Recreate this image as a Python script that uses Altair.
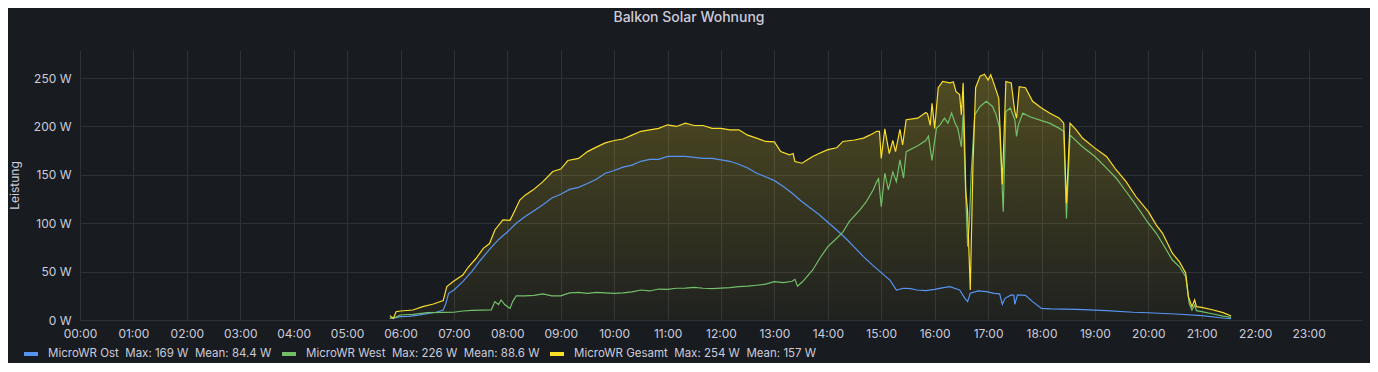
import altair as alt
import pandas as pd

# ---------------- data ----------------
series_names = ["MicroWR Ost", "MicroWR West", "MicroWR Gesamt"]
series_colors = ["#5794F2", "#73BF69", "#FADE2A"]
series_max = ["169 W", "226 W", "254 W"]
series_mean = ["84.4 W", "88.6 W", "157 W"]

hour_labels = ["%02d:00" % h for h in range(24)]
y_ticks = [0, 50, 100, 150, 200, 250]

ost_times = ["05:48", "05:55", "06:00", "06:10", "06:20", "06:30", "06:40", "06:48", "06:51", "06:54",
             "07:00", "07:10", "07:20", "07:30", "07:40", "07:50", "08:00", "08:10", "08:20", "08:30",
             "08:40", "08:50", "09:00", "09:10", "09:20", "09:30", "09:40", "09:50", "10:00", "10:10",
             "10:20", "10:30", "10:40", "10:50", "11:00", "11:10", "11:20", "11:30", "11:40", "11:50",
             "12:00", "12:10", "12:20", "12:30", "12:40", "12:50", "13:00", "13:10", "13:20", "13:30",
             "13:40", "13:50", "14:00", "14:10", "14:20", "14:30", "14:40", "14:50", "15:00", "15:10",
             "15:17", "15:25", "15:33", "15:40", "15:50", "16:00", "16:10", "16:17", "16:28", "16:34",
             "16:37", "16:40", "16:49", "16:58", "17:07", "17:13", "17:16", "17:19", "17:26", "17:29",
             "17:30", "17:33", "17:42", "17:50", "18:00", "18:10", "18:40", "19:00", "19:13", "19:43",
             "20:00", "20:30", "21:00", "21:26", "21:33"]
ost_values = [1.7, 2.5, 3.4, 3.8, 5, 6.5, 8, 10.3, 17, 27.6,
              31, 39.7, 50, 62, 73, 83, 91, 100, 107, 113,
              119, 126, 130, 135, 137, 141, 145.5, 151.7, 154.5, 158,
              160, 164, 166, 166, 169, 169, 169, 168, 167, 167,
              165.5, 164, 161, 157, 151.7, 148, 144, 138, 131, 123,
              116, 109, 101, 93, 84.5, 75, 65.5, 57, 49, 41,
              31, 32.8, 32.5, 31, 30.3, 31.7, 33.4, 34.5, 31, 22.4,
              19, 27.6, 30, 29.3, 27.6, 27, 16.2, 22.4, 25.9, 25.5,
              16.2, 25.9, 25.5, 19, 12, 11.5, 11, 10.3, 9.6, 8,
              7.5, 6.2, 4.5, 1.8, 1.4]

west_times = ["05:48", "05:55", "06:00", "06:14", "06:30", "06:50", "07:00", "07:10", "07:20", "07:42",
              "07:46", "07:50", "07:53", "07:57", "08:03", "08:06", "08:10", "08:20", "08:30", "08:40",
              "08:50", "09:00", "09:10", "09:20", "09:30", "09:40", "09:50", "10:00", "10:10", "10:20",
              "10:30", "10:40", "10:50", "11:00", "11:10", "11:20", "11:30", "11:40", "11:50", "12:00",
              "12:10", "12:20", "12:30", "12:40", "12:50", "13:00", "13:10", "13:20", "13:23", "13:26",
              "13:32", "13:43", "13:51", "14:00", "14:10", "14:17", "14:24", "14:36", "14:43", "14:51",
              "14:55", "14:57", "15:00", "15:04", "15:08", "15:13", "15:17", "15:21", "15:25", "15:28",
              "15:41", "15:50", "15:53", "15:57", "16:02", "16:06", "16:11", "16:15", "16:19", "16:23",
              "16:26", "16:30", "16:32", "16:35", "16:37", "16:39", "16:41", "16:45", "16:51", "16:58",
              "17:02", "17:05", "17:09", "17:13", "17:17", "17:20", "17:25", "17:30", "17:32", "17:34",
              "17:39", "17:47", "18:00", "18:09", "18:20", "18:25", "18:28", "18:32", "18:46", "19:00",
              "19:13", "19:24", "19:35", "19:46", "20:00", "20:09", "20:16", "20:27", "20:35", "20:42",
              "20:46", "20:49", "20:52", "20:54", "21:00", "21:13", "21:24", "21:33"]
west_values = [1.7, 3, 5.2, 5.9, 7.6, 7.9, 8, 9.3, 10, 10.5,
               19, 16, 20.7, 16, 12, 19, 25, 25, 25.5, 27,
               25, 25, 28, 28.6, 27.6, 28.6, 28, 27.6, 28, 29,
               31, 30, 32, 31.7, 32.8, 33, 33.8, 32.8, 32.4, 33,
               33.4, 34.5, 35, 35.9, 37, 39.7, 38.6, 40, 42, 35,
               40, 51.7, 63.8, 75.9, 84.5, 91, 101.7, 113.8, 122, 134.5,
               143, 146, 117, 151.7, 134.5, 153, 143, 165.5, 146.5, 174,
               180, 185.5, 190, 165, 198, 201.7, 208.6, 203.4, 213.8, 203.4,
               198, 179, 212, 126, 76, 100, 150, 212, 220.7, 226,
               223, 220.7, 212, 198, 112, 215.5, 219, 207, 189.6, 201.7,
               213.8, 210, 206, 203.4, 198, 194.8, 105, 191, 179, 169,
               157, 146.5, 132.8, 119, 100, 89.6, 79, 62, 55, 44.8,
               17, 10.3, 15.5, 9.6, 8.6, 6.2, 4, 2.8]

gesamt_times = ["05:48", "05:52", "05:55", "06:00", "06:14", "06:25", "06:37", "06:48", "06:52", "07:00",
                "07:10", "07:16", "07:25", "07:33", "07:40", "07:46", "07:55", "08:03", "08:06", "08:14",
                "08:20", "08:29", "08:40", "08:51", "09:00", "09:08", "09:20", "09:30", "09:40", "09:50",
                "10:00", "10:10", "10:20", "10:30", "10:40", "10:50", "11:00", "11:10", "11:20", "11:30",
                "11:40", "11:50", "12:00", "12:10", "12:20", "12:30", "12:40", "12:50", "13:00", "13:07",
                "13:17", "13:21", "13:23", "13:31", "13:38", "13:43", "13:50", "14:00", "14:10", "14:17",
                "14:30", "14:40", "14:47", "14:55", "14:58", "15:00", "15:04", "15:09", "15:13", "15:16",
                "15:21", "15:24", "15:28", "15:41", "15:50", "15:52", "15:55", "15:57", "16:00", "16:04",
                "16:09", "16:17", "16:21", "16:24", "16:28", "16:30", "16:32", "16:35", "16:37", "16:40",
                "16:43", "16:46", "16:51", "16:56", "17:00", "17:03", "17:07", "17:12", "17:16", "17:20",
                "17:26", "17:30", "17:32", "17:35", "17:42", "17:50", "18:00", "18:09", "18:20", "18:25",
                "18:28", "18:32", "18:39", "18:46", "19:00", "19:13", "19:24", "19:35", "19:46", "20:00",
                "20:09", "20:16", "20:27", "20:35", "20:42", "20:45", "20:49", "20:52", "20:54", "21:00",
                "21:13", "21:24", "21:33"]
gesamt_values = [4.5, 1.7, 8.6, 9.3, 10.3, 13.8, 16.5, 20, 34.5, 40.3,
                 46.5, 54.5, 63.8, 74, 79, 93, 103.4, 103, 108.6, 124,
                 129, 134.5, 143, 153.4, 156, 164.8, 167, 174, 178.6, 183,
                 185.5, 187, 191, 195, 196.5, 198, 201.7, 200, 203.4, 201,
                 201, 198, 198, 196.5, 196.5, 191, 188, 184.5, 184, 174,
                 170.7, 172, 163.8, 162, 166, 169, 172, 176, 178, 184.5,
                 186, 188, 191, 195, 195, 167, 197.6, 172, 185.5, 174,
                 196.9, 181, 207, 208.6, 214.5, 213, 201, 224, 198, 240,
                 246.5, 245, 246, 236, 233, 212, 245, 133, 112, 31,
                 160, 240, 252, 254, 248, 253.4, 243, 229, 140, 246.5,
                 245, 215.5, 208.6, 241, 240, 226, 219, 213.8, 208.6, 203.4,
                 120.7, 203.4, 196.5, 188, 177.6, 169, 155, 143, 127.6, 112,
                 98, 89.6, 69, 60, 48.3, 24, 13.8, 20.7, 13.8, 13,
                 10.3, 7.6, 4.1]

chart_title = "Balkon Solar Wohnung"
y_title = "Leistung"

# ---------------- build table ----------------
def to_hours(s):
    h, m = s.split(":")
    return int(h) + int(m) / 60.0

NB = "\u00a0"
legend_labels = [f"{n}{NB*2}Max: {mx}{NB*2}Mean: {mn}"
                 for n, mx, mn in zip(series_names, series_max, series_mean)]

frames = []
for lab, times, vals in zip(legend_labels,
                            [ost_times, west_times, gesamt_times],
                            [ost_values, west_values, gesamt_values]):
    frames.append(pd.DataFrame({"hour": [to_hours(t) for t in times],
                                "value": vals, "series": lab}))
df = pd.concat(frames, ignore_index=True)

FONT = "Inter"
TEXT = "#ccccdc"

label_expr = "[" + ",".join("'%s'" % l for l in hour_labels) + "][datum.value]"

x_enc = alt.X("hour:Q",
              scale=alt.Scale(domain=[0, 24], nice=False, zero=False),
              axis=alt.Axis(values=list(range(24)), labelExpr=label_expr, title=None,
                            labelPadding=8, labelFlush=False, labelOverlap=False))
y_enc = alt.Y("value:Q",
              scale=alt.Scale(domain=[0, 279], nice=False),
              axis=alt.Axis(values=y_ticks, labelExpr="datum.value + ' W'", title=y_title,
                            labelPadding=9, titleX=-66, titleY=135, titleAngle=270,
                            titleAlign="center", titleBaseline="middle"))

area = alt.Chart(df[df["series"] == legend_labels[2]]).mark_area(
    fill=alt.Gradient(gradient="linear",
                      stops=[alt.GradientStop(color="rgba(250,222,42,0.03)", offset=0),
                             alt.GradientStop(color="rgba(250,222,42,0.25)", offset=1)],
                      x1=0, x2=0, y1=1, y2=0)
).encode(x=x_enc, y=y_enc)

# one line layer (and one legend entry) per series, legend entries placed like Grafana's
legend_x = [-58, 200, 468]
line_layers = []
for lab, col, lx in zip(legend_labels, series_colors, legend_x):
    line_layers.append(
        alt.Chart(df[df["series"] == lab]).mark_line(strokeWidth=1.2).encode(
            x=x_enc, y=y_enc,
            color=alt.Color("series:N",
                            scale=alt.Scale(domain=[lab], range=[col]),
                            legend=alt.Legend(title=None, orient="none", legendX=lx, legendY=295,
                                              direction="horizontal", symbolType="stroke",
                                              symbolStrokeWidth=4, symbolSize=196, labelOffset=8,
                                              labelLimit=500, padding=0)),
            order=alt.Order("hour:Q"),
        )
    )

title_layer = alt.Chart(pd.DataFrame({"t": [chart_title]})).mark_text(
    font=FONT, fontSize=14, fontWeight=500, color=TEXT, baseline="middle", align="center"
).encode(text="t:N", x=alt.value(609), y=alt.value(-32))

chart = alt.layer(area, *line_layers, title_layer).resolve_scale(
    color="independent"
).properties(
    width=1282, height=270,
    autosize=alt.AutoSizeParams(type="none"),
    padding={"left": 72, "top": 42, "right": 8, "bottom": 43},
).configure(
    background="#181b1f"
).configure_view(
    stroke=None
).configure_axis(
    domain=False, ticks=False, tickSize=0,
    gridColor="#2e3136", gridOpacity=1, gridWidth=1,
    labelColor=TEXT, labelFont=FONT, labelFontSize=12,
    titleColor=TEXT, titleFont=FONT, titleFontSize=12, titleFontWeight="normal",
).configure_legend(
    labelColor=TEXT, labelFont=FONT, labelFontSize=11.5,
)

chart.save("out.html", embed_options={"renderer": "svg", "actions": False})
